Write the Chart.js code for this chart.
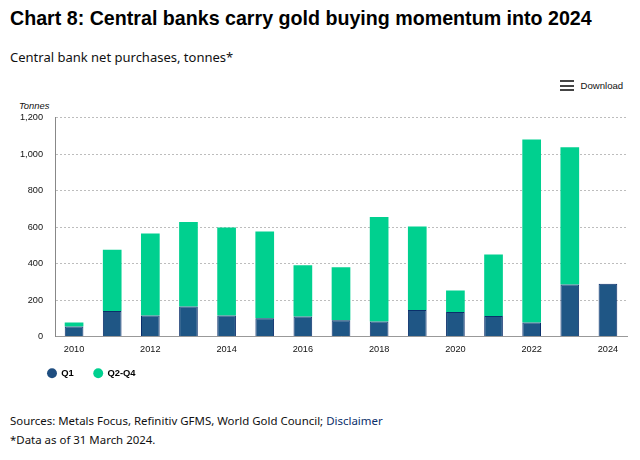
<!DOCTYPE html>
<html><head><meta charset="utf-8">
<script src="https://cdn.jsdelivr.net/npm/chart.js@4"></script>
<style>
html,body{margin:0;padding:0;background:#fff;width:640px;height:460px;overflow:hidden}
.t{position:absolute;white-space:nowrap;color:#111}
#title{left:10px;top:7px;font:bold 19.65px "Liberation Sans",Arial,sans-serif;color:#000}
#sub{left:10px;top:48px;font:13px "Noto Sans",sans-serif}
#dl{left:580.5px;top:80px;font:9.6px "Liberation Sans",Arial,sans-serif}
#ton{left:19px;top:100px;font:italic 9.4px "Liberation Sans",Arial,sans-serif}
#src{left:10px;top:413px;font:11.45px "Noto Sans",sans-serif}
#src span{color:#0b2f6b}
#note{left:10px;top:432px;font:11.45px "Noto Sans",sans-serif}
.b{position:absolute;left:559.5px;width:14px;height:2.4px;background:#444}
#c{position:absolute;left:0;top:100px}
</style></head><body>
<div class="t" id="title">Chart 8: Central banks carry gold buying momentum into 2024</div>
<div class="t" id="sub">Central bank net purchases, tonnes*</div>
<div class="b" style="top:80px"></div><div class="b" style="top:84.5px"></div><div class="b" style="top:89px"></div>
<div class="t" id="dl">Download</div>
<div class="t" id="ton">Tonnes</div>
<canvas id="c" width="640" height="301" style="width:640px;height:301px"></canvas>
<div class="t" id="src">Sources: Metals Focus, Refinitiv GFMS, World Gold Council; <span>Disclaimer</span></div>
<div class="t" id="note">*Data as of 31 March 2024.</div>
<script>
const years=["2010","2011","2012","2013","2014","2015","2016","2017","2018","2019","2020","2021","2022","2023","2024"];
const q1=[55,140,115,165,115,100,110,90,83,145,135,113,77,285,290];
const q2q4=[22,335,450,462,482,475,280,290,572,458,117,337,1003,752,0];
const yMax=1200, yStep=200;
Chart.defaults.font.family='"Liberation Sans",Arial,sans-serif';
const moveLegend={id:'moveLegend',afterLayout(ch){ch.legend.left+=27.5;ch.legend.top-=13;}};
new Chart(document.getElementById('c'),{
 type:'bar',
 plugins:[moveLegend],
 data:{labels:years,datasets:[
  {label:'Q1',data:q1,backgroundColor:'#1f5685',borderColor:'#0a2f6b',borderWidth:1,barPercentage:0.49,categoryPercentage:1},
  {label:'Q2-Q4',data:q2q4,backgroundColor:'#00d08f',borderColor:'#00d08f',borderWidth:0,barPercentage:0.49,categoryPercentage:1}
 ]},
 options:{
  responsive:false,animation:false,
  layout:{padding:{top:16,right:13,left:0,bottom:0}},
  plugins:{tooltip:{enabled:false},
   legend:{position:'bottom',align:'start',
    labels:{usePointStyle:true,pointStyle:'circle',boxWidth:9,boxHeight:7,padding:20,color:'#222',
     font:{size:9.4,weight:'bold'},
     generateLabels(ch){return ch.data.datasets.map((d,i)=>({text:d.label,fillStyle:i==0?'#1f4e80':'#00d08f',strokeStyle:i==0?'#1f4e80':'#00d08f',lineWidth:0,pointStyle:'circle',datasetIndex:i}));}
    }}},
  scales:{
   x:{stacked:true,grid:{display:false,drawTicks:false},border:{color:'#999',width:1},
      ticks:{autoSkip:false,maxRotation:0,padding:7,color:'#111',font:{size:9.2},callback(v,i){return i%2==0?this.getLabelForValue(v):'';}}},
   y:{stacked:true,min:0,max:yMax,afterFit(s){s.width=55;},
      grid:{color:'#bdbdbd',drawTicks:false,tickLength:0},border:{color:'#888',width:1,dash:[2,2]},
      ticks:{stepSize:yStep,padding:12,color:'#111',font:{size:9.2},callback(v){return v.toLocaleString('en-US');}}}
  }
 }
});
</script></body></html>
